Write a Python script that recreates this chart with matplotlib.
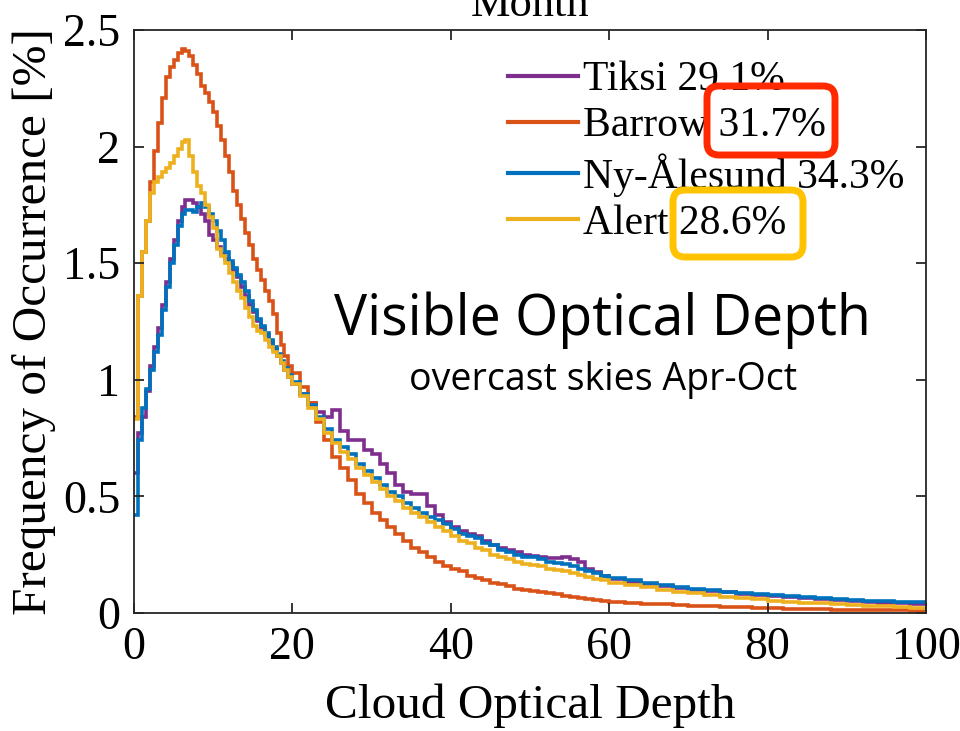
import numpy as np
import matplotlib
matplotlib.use('Agg')
import matplotlib.pyplot as plt
from matplotlib.patches import FancyBboxPatch

# bin edges: 0.5 wide up to 20, 1 wide up to 60, 2 wide up to 100
edges = np.concatenate([np.arange(0, 20, 0.5), np.arange(20, 60, 1.0), np.arange(60, 100.1, 2.0)])

stations = ['Tiksi 29.1%', 'Barrow 31.7%', 'Ny-Ålesund 34.3%', 'Alert 28.6%']
colors = ['#7E2F8E', '#D95319', '#0072BD', '#EDB120']

tiksi = [0.60, 0.77, 0.84, 0.95, 1.06, 1.14, 1.22, 1.32, 1.42, 1.52,
         1.60, 1.68, 1.74, 1.77, 1.77, 1.76, 1.74, 1.71, 1.68, 1.62,
         1.60, 1.57, 1.54, 1.52, 1.50, 1.47, 1.44, 1.40, 1.36, 1.32,
         1.29, 1.25, 1.22, 1.19, 1.16, 1.13, 1.10, 1.07, 1.04, 1.01,
         0.98, 0.94, 0.90, 0.86, 0.84, 0.87, 0.78, 0.74, 0.74, 0.70,
         0.68, 0.64, 0.60, 0.55, 0.52, 0.51, 0.51, 0.46, 0.42, 0.39,
         0.37, 0.35, 0.34, 0.33, 0.31, 0.29, 0.28, 0.27, 0.26, 0.25,
         0.245, 0.24, 0.235, 0.235, 0.24, 0.23, 0.22, 0.19, 0.175, 0.16,
         0.145, 0.135, 0.125, 0.115, 0.108, 0.10, 0.094, 0.088, 0.083, 0.078,
         0.073, 0.068, 0.063, 0.059, 0.055, 0.052, 0.048, 0.045, 0.042, 0.040]

barrow = [0.84, 1.36, 1.55, 1.68, 1.85, 1.98, 2.10, 2.21, 2.30, 2.34,
          2.37, 2.40, 2.42, 2.41, 2.39, 2.35, 2.31, 2.26, 2.23, 2.19,
          2.15, 2.09, 2.03, 1.96, 1.89, 1.81, 1.75, 1.69, 1.63, 1.58,
          1.52, 1.47, 1.43, 1.38, 1.34, 1.28, 1.20, 1.15, 1.10, 1.06,
          1.03, 0.97, 0.90, 0.82, 0.74, 0.67, 0.62, 0.57, 0.51, 0.47,
          0.43, 0.40, 0.37, 0.34, 0.31, 0.28, 0.26, 0.24, 0.22, 0.20,
          0.19, 0.18, 0.16, 0.15, 0.14, 0.13, 0.125, 0.115, 0.105, 0.10,
          0.095, 0.09, 0.085, 0.08, 0.075, 0.07, 0.065, 0.06, 0.056, 0.052,
          0.048, 0.044, 0.040, 0.037, 0.034, 0.031, 0.029, 0.027, 0.025, 0.023,
          0.021, 0.019, 0.018, 0.017, 0.015, 0.014, 0.013, 0.012, 0.011, 0.010]

nyalesund = [0.42, 0.74, 0.88, 0.96, 1.04, 1.12, 1.19, 1.30, 1.40, 1.50,
             1.58, 1.66, 1.71, 1.73, 1.73, 1.72, 1.74, 1.76, 1.74, 1.71,
             1.68, 1.64, 1.60, 1.55, 1.51, 1.48, 1.45, 1.42, 1.38, 1.34,
             1.30, 1.26, 1.23, 1.20, 1.17, 1.14, 1.11, 1.08, 1.05, 1.02,
             0.99, 0.94, 0.89, 0.84, 0.79, 0.74, 0.71, 0.68, 0.64, 0.61,
             0.58, 0.55, 0.52, 0.50, 0.47, 0.45, 0.43, 0.41, 0.40, 0.38,
             0.36, 0.34, 0.33, 0.32, 0.30, 0.29, 0.27, 0.26, 0.25, 0.24,
             0.24, 0.23, 0.22, 0.215, 0.21, 0.20, 0.19, 0.18, 0.17, 0.16,
             0.15, 0.14, 0.13, 0.12, 0.112, 0.105, 0.098, 0.092, 0.087, 0.082,
             0.077, 0.072, 0.067, 0.063, 0.059, 0.056, 0.053, 0.050, 0.048, 0.046]

alert = [0.83, 1.36, 1.55, 1.68, 1.80, 1.85, 1.87, 1.89, 1.91, 1.93,
         1.96, 1.99, 2.02, 2.03, 1.96, 1.89, 1.83, 1.80, 1.75, 1.70,
         1.65, 1.56, 1.53, 1.50, 1.46, 1.42, 1.38, 1.35, 1.31, 1.27,
         1.23, 1.21, 1.20, 1.17, 1.14, 1.12, 1.10, 1.07, 1.04, 1.01,
         0.98, 0.93, 0.88, 0.83, 0.77, 0.73, 0.69, 0.66, 0.62, 0.59,
         0.56, 0.53, 0.50, 0.48, 0.45, 0.43, 0.41, 0.39, 0.37, 0.35,
         0.33, 0.31, 0.30, 0.28, 0.27, 0.25, 0.24, 0.23, 0.22, 0.21,
         0.205, 0.20, 0.19, 0.185, 0.18, 0.17, 0.165, 0.155, 0.145, 0.14,
         0.13, 0.12, 0.11, 0.10, 0.092, 0.085, 0.078, 0.070, 0.064, 0.058,
         0.053, 0.049, 0.045, 0.042, 0.039, 0.035, 0.031, 0.028, 0.024, 0.020]

series = [tiksi, barrow, nyalesund, alert]

xticks = [0, 20, 40, 60, 80, 100]
yticks = [0, 0.5, 1, 1.5, 2, 2.5]
ytick_labels = ['0', '0.5', '1', '1.5', '2', '2.5']

plt.rcParams['font.family'] = 'Liberation Serif'

fig = plt.figure(figsize=(9.6, 7.31), dpi=100)
ax = fig.add_axes([0.1396, 0.1614, 0.825, 0.7976])

for vals, col, lab in zip(series, colors, stations):
    ax.stairs(vals, edges, color=col, lw=2.6, label=lab, baseline=None)

ax.set_xlim(0, 100)
ax.set_ylim(0, 2.5)
ax.set_xticks(xticks)
ax.set_yticks(yticks)
ax.set_yticklabels(ytick_labels)
ax.tick_params(direction='in', length=7, width=1.3, top=True, right=True,
               labelsize=33, color='#262626', pad=10)
for s in ax.spines.values():
    s.set_linewidth(1.3)
    s.set_color('#262626')

ax.set_xlabel('Cloud Optical Depth', fontsize=35.5, labelpad=10)
ax.set_ylabel('Frequency of Occurrence [%]', fontsize=35.5, labelpad=5)
fig.text(0.552, 0.978, 'Month', fontsize=32, ha='center', va='baseline')

leg = ax.legend(loc='upper left', bbox_to_anchor=(0.472, 0.947), frameon=False,
                fontsize=30, handlelength=1.68, handletextpad=0.12,
                labelspacing=0.18, borderaxespad=0, borderpad=0)
for h in leg.get_lines():
    h.set_linewidth(3)

ax.text(0.592, 0.477, 'Visible Optical Depth', transform=ax.transAxes,
        fontsize=40, family='Open Sans', ha='center', va='baseline')
ax.text(0.592, 0.3825, 'overcast skies Apr-Oct', transform=ax.transAxes,
        fontsize=27, family='Open Sans', ha='center', va='baseline')

# highlight boxes around two of the percentages (inch coordinates)
H = 7.31
for (x0, y0, x1, y1), ec in [((7.07, 0.86, 8.35, 1.55), '#FF2A00'),
                             ((6.73, 1.90, 8.03, 2.57), '#FFC300')]:
    box = FancyBboxPatch((x0, H - y1), x1 - x0, y1 - y0,
                         boxstyle='round,pad=0,rounding_size=0.12',
                         transform=fig.dpi_scale_trans, fill=False,
                         ec=ec, lw=5, zorder=10)
    fig.patches.append(box)

fig.savefig('out.png', dpi=100)
